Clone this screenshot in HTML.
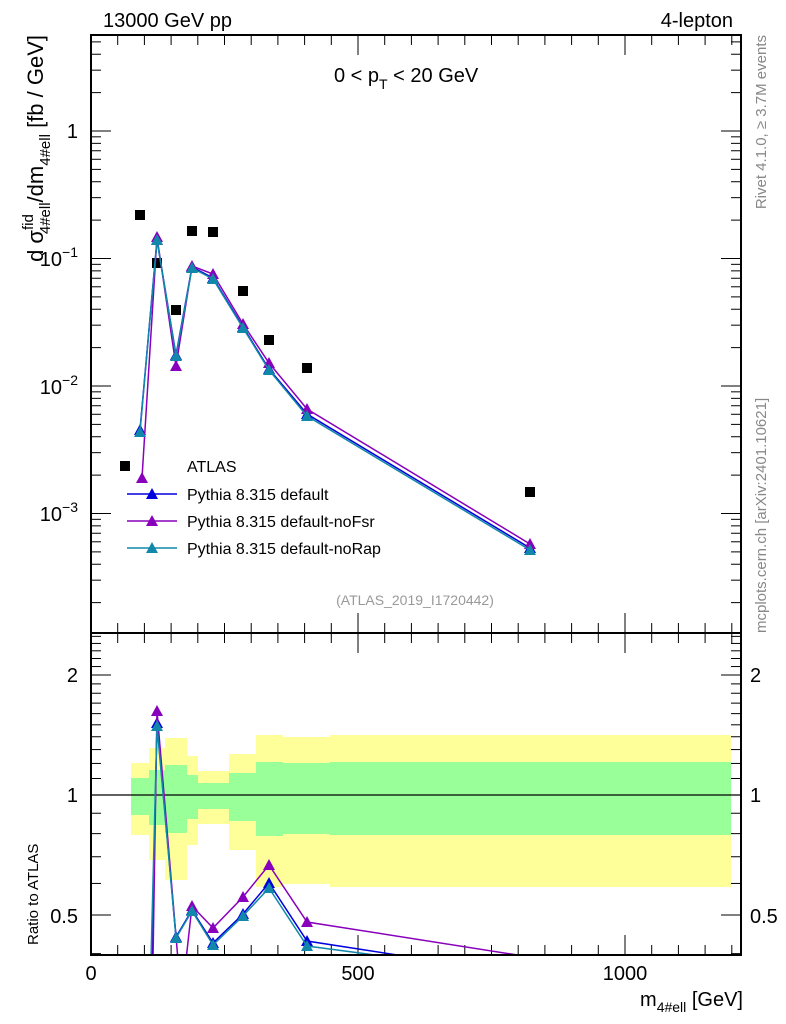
<!DOCTYPE html><html><head><meta charset="utf-8"><style>body{margin:0;background:#fff}svg{display:block;font-family:"Liberation Sans",sans-serif}</style></head><body>
<svg id="s" width="786" height="1024" xmlns="http://www.w3.org/2000/svg">
<defs><clipPath id="cr"><rect x="91" y="633" width="650" height="322"/></clipPath></defs>
<g id="bands"></g>
<line x1="91" y1="795" x2="741" y2="795" stroke="#000" stroke-width="1.2"/>
<g id="ticks" stroke="#000" stroke-width="1"></g>
<g id="data"></g>
<g id="rdata" clip-path="url(#cr)"></g>
<rect x="91" y="35" width="650" height="598" fill="none" stroke="#000" stroke-width="2"/>
<rect x="91" y="633" width="650" height="322" fill="none" stroke="#000" stroke-width="2"/>
<g font-size="20">
<text x="103" y="27">13000 GeV pp</text>
<text x="733" y="27" text-anchor="end">4-lepton</text>
<text x="334" y="82">0 &lt; p<tspan font-size="14" dy="7">T</tspan><tspan dy="-7"> &lt; 20 GeV</tspan></text>
<text x="78" y="138" text-anchor="end">1</text>
<text x="78" y="266" text-anchor="end">10<tspan font-size="14" dy="-9">−1</tspan></text>
<text x="78" y="394" text-anchor="end">10<tspan font-size="14" dy="-9">−2</tspan></text>
<text x="78" y="521" text-anchor="end">10<tspan font-size="14" dy="-9">−3</tspan></text>
<text x="78" y="682" text-anchor="end">2</text>
<text x="78" y="802" text-anchor="end">1</text>
<text x="78" y="923" text-anchor="end">0.5</text>
<text x="750" y="682">2</text>
<text x="750" y="802">1</text>
<text x="750" y="923">0.5</text>
<text x="91" y="980" text-anchor="middle">0</text>
<text x="358" y="980" text-anchor="middle">500</text>
<text x="625" y="980" text-anchor="middle">1000</text>
<text x="743" y="1006" text-anchor="end">m<tspan font-size="14" dy="6">4#ell</tspan><tspan dy="-6"> [GeV]</tspan></text>
</g>
<text transform="translate(43,35) rotate(-90)" text-anchor="end" font-size="22">d σ<tspan font-size="15" dy="-10">fid</tspan><tspan font-size="15" dx="-20" dy="17">4#ell</tspan><tspan dy="-7">/dm</tspan><tspan font-size="15" dy="7">4#ell</tspan><tspan dy="-7"> [fb / GeV]</tspan></text>
<text transform="translate(38,955) rotate(-90)" font-size="15" x="10">Ratio to ATLAS</text>
<text transform="translate(766,35) rotate(-90)" font-size="15" fill="#888" text-anchor="end">Rivet 4.1.0, ≥ 3.7M events</text>
<text transform="translate(766,633) rotate(-90)" font-size="15" fill="#888">mcplots.cern.ch [arXiv:2401.10621]</text>
<text x="415" y="605" font-size="14" fill="#999" text-anchor="middle">(ATLAS_2019_I1720442)</text>
<g font-size="16">
<rect x="120" y="461" width="10" height="10" fill="#000"/><text x="187" y="472">ATLAS</text>
<line x1="127" y1="494" x2="177" y2="494" stroke="#0000dd" stroke-width="1.5"/><polygon points="152,488 146,499 158,499" fill="#0000dd"/><text x="187" y="500">Pythia 8.315 default</text>
<line x1="127" y1="521" x2="177" y2="521" stroke="#8800bb" stroke-width="1.5"/><polygon points="152,515 146,526 158,526" fill="#8800bb"/><text x="187" y="527">Pythia 8.315 default-noFsr</text>
<line x1="127" y1="548" x2="177" y2="548" stroke="#1188aa" stroke-width="1.5"/><polygon points="152,542 146,553 158,553" fill="#1188aa"/><text x="187" y="554">Pythia 8.315 default-noRap</text>
</g>
</svg>
<script>
const NS="http://www.w3.org/2000/svg";
function el(p,t,a){const e=document.createElementNS(NS,t);for(const k in a)e.setAttribute(k,a[k]);p.appendChild(e);return e;}
const B=document.getElementById('bands'),T=document.getElementById('ticks'),D=document.getElementById('data'),R=document.getElementById('rdata');
const bands=[[131,149,763,835,778,815],[149,165,748,860,770,825],[165,187,738,880,765,833],[187,198,756,845,775,819],[198,229,771,824,783,809],[229,256,754,850,773,821],[256,283,735,887,762,836],[283,330,737,884,763,834],[330,731,735,887,762,835]];
bands.forEach(b=>{el(B,'rect',{x:b[0],y:b[2],width:b[1]-b[0],height:b[3]-b[2],fill:'#ffff99'});el(B,'rect',{x:b[0],y:b[4],width:b[1]-b[0],height:b[5]-b[4],fill:'#99ff99'});});
for(let v=0;v<=1200;v+=50){const x=91+v*0.534;const big=v%500==0;const l=big?20:10;
el(T,'line',{x1:x,x2:x,y1:633,y2:633-l});el(T,'line',{x1:x,x2:x,y1:633,y2:633+l});el(T,'line',{x1:x,x2:x,y1:955,y2:955-l});el(T,'line',{x1:x,x2:x,y1:35,y2:35+l});}
function ly(v){return 131-127.5*Math.log10(v);}
for(let e=-4;e<=0;e++)for(let m=1;m<10;m++){const v=m*Math.pow(10,e);const y=ly(v);if(y<35||y>633)continue;const l=m==1?20:10;el(T,'line',{x1:91,x2:91+l,y1:y,y2:y});el(T,'line',{x1:741,x2:741-l,y1:y,y2:y});}
function ry(v){return 795-120*Math.log2(v);}
[0.4,0.5,0.6,0.7,0.8,0.9,1,1.1,1.2,1.3,1.4,1.5,1.6,1.7,1.8,1.9,2,2.1,2.2,2.3,2.4,2.5].forEach(v=>{const y=ry(v);if(y<633||y>955)return;const big=[0.5,1,2].includes(v);const l=big?20:10;el(T,'line',{x1:91,x2:91+l,y1:y,y2:y});el(T,'line',{x1:741,x2:741-l,y1:y,y2:y});});
[[140,215],[157,263],[176,310],[192,231],[213,232],[243,291],[269,340],[307,368],[530,492]].forEach(p=>el(D,'rect',{x:p[0]-5,y:p[1]-5,width:10,height:10,fill:'#000'}));
function series(G,pts,c){el(G,'polyline',{points:pts.map(p=>p[0]+','+p[1]).join(' '),fill:'none',stroke:c,'stroke-width':1.5});
pts.forEach(p=>{if(p[2]===false)return;el(G,'polygon',{points:`${p[0]},${p[1]-6} ${p[0]-6},${p[1]+5} ${p[0]+6},${p[1]+5}`,fill:c});});}
series(D,[[140,430],[157,240],[176,355],[192,267],[213,278],[243,327],[269,369],[307,414],[530,548]],'#0000dd');
series(D,[[142,478],[157,237],[176,366],[192,266],[213,274],[243,324],[269,363],[307,409],[530,544]],'#8800bb');
series(D,[[140,432],[157,240],[176,356],[192,268],[213,279],[243,328],[269,370],[307,416],[530,550]],'#1188aa');
series(R,[[152,960,false],[157,723],[176,937],[192,910],[213,943],[243,914],[269,883],[307,941],[410,957,false]],'#0000dd');
series(R,[[153,960,false],[157,711],[178,960,false],[186,960,false],[192,906],[213,928],[243,897],[269,865],[307,922],[530,957,false]],'#8800bb');
series(R,[[151,960,false],[157,726],[176,938],[192,911],[213,945],[243,916],[269,888],[307,946],[390,957,false]],'#1188aa');
</script>
</body></html>
